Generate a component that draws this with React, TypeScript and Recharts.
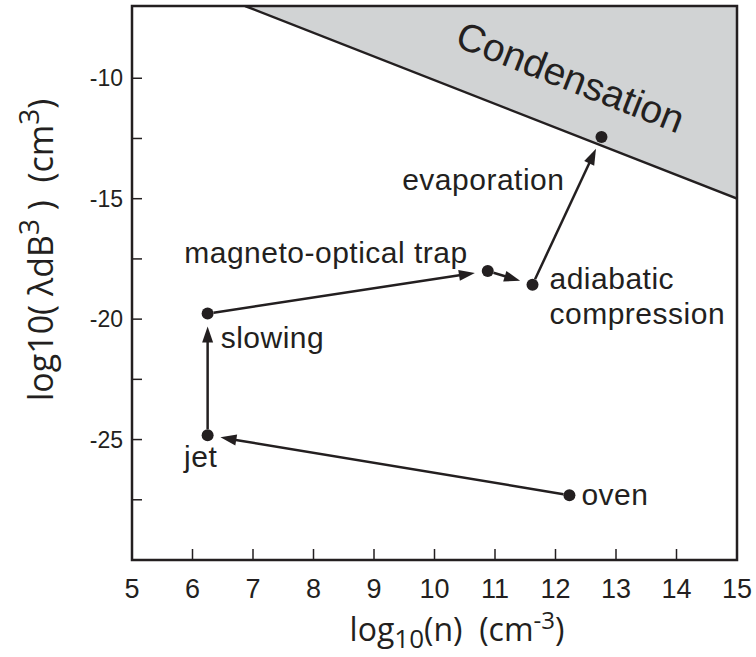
import React from "react";
import {
  ComposedChart,
  Area,
  Scatter,
  XAxis,
  YAxis,
  ReferenceLine,
  ReferenceArea,
  ReferenceDot,
} from "recharts";

// condensation boundary (upper right region is shaded)
const condensationN = [6.87, 15];
const condensationV = [-7, -15];

// stages of the cooling path
const stageNames = [
  "oven",
  "jet",
  "slowing",
  "magneto-optical trap",
  "adiabatic compression",
  "evaporation",
];
const stageN = [12.23, 6.25, 6.25, 10.88, 11.62, 12.76];
const stageV = [-27.31, -24.82, -19.77, -18.0, -18.57, -12.44];

// arrows: index of start stage -> index of end stage
const arrowFrom = [0, 1, 2, 3, 4];
const arrowTo = [1, 2, 3, 4, 5];

const xTicks = [5, 6, 7, 8, 9, 10, 11, 12, 13, 14, 15];
const yTicks = [-27.5, -25, -22.5, -20, -17.5, -15, -12.5, -10];

const INK = "#231f20";
const SHADE = "#d1d3d4";
const SANS = '"Liberation Sans", Arial, sans-serif';
const NARROW = '"Liberation Sans Narrow", "Liberation Sans", Arial, sans-serif';
const TITLE = '"Open Sans", "Noto Sans", sans-serif';

const condensationData = condensationN.map((n, i) => ({ n, v: condensationV[i] }));
const stageData = stageNames.map((name, i) => ({ name, n: stageN[i], v: stageV[i] }));

// where each stage's text sits relative to its dot (px)
const labelLayout: Record<string, { dx: number; dy: number; anchor: string; lines: string[] }> = {
  oven: { dx: 12, dy: 10, anchor: "start", lines: ["oven"] },
  jet: { dx: -7, dy: 32, anchor: "middle", lines: ["jet"] },
  slowing: { dx: 13, dy: 34, anchor: "start", lines: ["slowing"] },
  "magneto-optical trap": { dx: -20, dy: -8, anchor: "end", lines: ["magneto-optical trap"] },
  "adiabatic compression": { dx: 17, dy: 4, anchor: "start", lines: ["adiabatic", "compression"] },
  evaporation: { dx: -37, dy: 53, anchor: "end", lines: ["evaporation"] },
};

const StageDot = (props: any) => {
  const { cx, cy, payload } = props;
  const lay = labelLayout[payload.name];
  return (
    <g>
      <circle cx={cx} cy={cy} r={6} fill={INK} />
      {lay.lines.map((t, i) => (
        <text
          key={t}
          x={cx + lay.dx}
          y={cy + lay.dy + i * 35}
          textAnchor={lay.anchor as any}
          fontSize={30}
          letterSpacing={0.5}
          fontFamily={SANS}
          fill={INK}
        >
          {t}
        </text>
      ))}
    </g>
  );
};

const Arrow = (props: any) => {
  const { x1, y1, x2, y2 } = props;
  const dx = x2 - x1;
  const dy = y2 - y1;
  const len = Math.sqrt(dx * dx + dy * dy);
  const ux = dx / len;
  const uy = dy / len;
  const sx = x1 + ux * 6;
  const sy = y1 + uy * 6;
  const tx = x2 - ux * 13;
  const ty = y2 - uy * 13;
  const bx = tx - ux * 16;
  const by = ty - uy * 16;
  const px = -uy * 5.5;
  const py = ux * 5.5;
  return (
    <g>
      <line x1={sx} y1={sy} x2={bx + ux * 2} y2={by + uy * 2} stroke={INK} strokeWidth={2.5} />
      <polygon
        points={`${tx},${ty} ${bx + px},${by + py} ${bx - px},${by - py}`}
        fill={INK}
      />
    </g>
  );
};

const CondensationText = (props: any) => {
  const { cx, cy } = props;
  return (
    <text
      x={cx}
      y={cy}
      textAnchor="middle"
      dominantBaseline="middle"
      fontSize={39}
      fontFamily={SANS}
      fill={INK}
      transform={`rotate(21.4, ${cx}, ${cy})`}
    >
      Condensation
    </text>
  );
};

const XTitle = () => (
  <text x={457} y={641} textAnchor="middle" fontSize={32} fontFamily={TITLE} fill={INK} style={{ whiteSpace: "pre" }}>
    log
    <tspan fontSize={26} dy={7}>10</tspan>
    <tspan dy={-7}>(n)  (cm</tspan>
    <tspan fontSize={24} dy={-12}>-3</tspan>
    <tspan dy={12}>)</tspan>
  </text>
);

const YTitle = () => (
  <text
    x={53}
    y={250}
    textAnchor="middle"
    fontSize={34}
    fontFamily={TITLE}
    fill={INK}
    transform="rotate(-90, 53, 250)"
    style={{ whiteSpace: "pre" }}
  >
    log10( λdB
    <tspan fontSize={28} dy={-14}>3</tspan>
    <tspan dy={14}> )  (cm</tspan>
    <tspan fontSize={28} dy={-14}>3</tspan>
    <tspan dy={14}>)</tspan>
  </text>
);

export default function App() {
  return (
    <div style={{ position: "absolute", left: 0, top: 0, background: "#fff" }}>
      <ComposedChart
        width={756}
        height={657}
        data={condensationData}
        margin={{ top: 6, right: 19, bottom: 37, left: 0 }}
      >
        <XAxis
          dataKey="n"
          type="number"
          domain={[5, 15]}
          ticks={xTicks}
          allowDataOverflow
          axisLine={false}
          tickSize={-11}
          tickMargin={30}
          tickLine={{ stroke: INK, strokeWidth: 1.5 }}
          tick={{ fontSize: 27, fontFamily: NARROW, fill: INK }}
          interval={0}
          height={60}
          label={{ content: () => <XTitle /> }}
        />
        <YAxis
          type="number"
          domain={[-30, -7]}
          ticks={yTicks}
          allowDataOverflow
          axisLine={false}
          tickSize={-10}
          tickMargin={19}
          tickLine={{ stroke: INK, strokeWidth: 1.5 }}
          tick={{ fontSize: 23, fontFamily: SANS, fill: INK }}
          tickFormatter={(v: number) => (v % 5 === 0 ? String(v) : "")}
          interval={0}
          width={132}
          label={{ content: () => <YTitle /> }}
        />
        <Area
          type="linear"
          dataKey="v"
          baseValue={-7}
          fill={SHADE}
          fillOpacity={1}
          stroke={INK}
          strokeWidth={2.5}
          isAnimationActive={false}
          dot={false}
          activeDot={false}
        />
        <ReferenceDot x={12.23} y={-10.08} shape={CondensationText} ifOverflow="visible" />
        {arrowFrom.map((f, i) => (
          <ReferenceLine
            key={`arrow-${i}`}
            segment={[
              { x: stageN[f], y: stageV[f] },
              { x: stageN[arrowTo[i]], y: stageV[arrowTo[i]] },
            ]}
            stroke={INK}
            shape={Arrow}
            ifOverflow="visible"
          />
        ))}
        <Scatter
          data={stageData}
          dataKey="v"
          shape={StageDot}
          isAnimationActive={false}
        />
        <ReferenceArea
          x1={5}
          x2={15}
          y1={-30}
          y2={-7}
          fill="none"
          stroke={INK}
          strokeWidth={2.5}
          ifOverflow="visible"
        />
      </ComposedChart>
    </div>
  );
}
